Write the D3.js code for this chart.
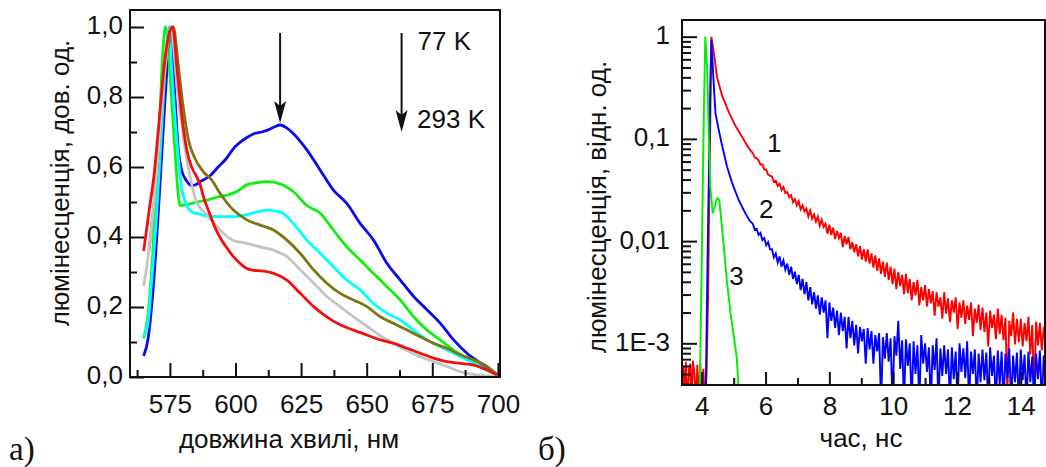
<!DOCTYPE html>
<html>
<head>
<meta charset="utf-8">
<script src="https://cdn.jsdelivr.net/npm/d3@7"></script>
<style>
  body { margin: 0; background: #fff; }
  text { font-family: "Liberation Sans", Arial, sans-serif; fill: #111; }
</style>
</head>
<body>
<div id="chart"></div>
<script>
// ---------- data: panel a) luminescence spectra, [wavelength nm, normalised intensity] ----------
var spectrumBlue = [[565,0.06],[566.7,0.11],[568.6,0.25],[570.5,0.46],[572.4,0.70],[574.4,0.94],[575,1.0],[576.9,0.80],[578.2,0.65],[579.5,0.59],[581.4,0.56],[583.3,0.547],[585,0.55],[586.5,0.558],[590.3,0.575],[593.4,0.60],[596.6,0.625],[599.5,0.655],[602,0.672],[604.5,0.685],[607,0.695],[610,0.70],[612.5,0.706],[615,0.715],[617,0.72],[619.5,0.712],[622,0.696],[627.2,0.649],[632.3,0.591],[637.3,0.534],[642.4,0.496],[647.5,0.439],[652.6,0.391],[657.7,0.325],[662.8,0.277],[667.9,0.23],[673,0.192],[678,0.154],[683.1,0.106],[688.2,0.068],[693.3,0.04],[699.7,0.006]];
var spectrumGreen = [[565,0.11],[566.7,0.18],[568.6,0.37],[569.9,0.56],[571.2,0.75],[572.4,0.94],[573.3,1.0],[575.6,0.80],[576.9,0.65],[578.2,0.52],[578.8,0.49],[582,0.493],[585.2,0.50],[589,0.505],[593.4,0.515],[597,0.52],[600.5,0.53],[604.3,0.549],[608,0.555],[611.9,0.558],[617,0.552],[622,0.53],[627.2,0.49],[632.3,0.468],[637.3,0.42],[642.4,0.372],[647.5,0.334],[652.6,0.296],[657.7,0.258],[662.8,0.22],[667.9,0.172],[673,0.134],[678,0.106],[683.1,0.077],[688.2,0.054],[693.3,0.03],[699.7,0.006]];
var spectrumCyan = [[565,0.115],[566.7,0.158],[568,0.27],[569.9,0.46],[571.8,0.70],[573.7,0.94],[574.7,1.0],[575.6,0.89],[577.6,0.68],[579.5,0.54],[581.4,0.49],[583.3,0.472],[586.5,0.465],[589,0.46],[593.4,0.458],[599.2,0.458],[605.5,0.466],[611.9,0.477],[617,0.472],[622,0.439],[627.2,0.391],[632.3,0.353],[637.3,0.315],[642.4,0.277],[647.5,0.249],[652.6,0.21],[657.7,0.182],[662.8,0.163],[667.9,0.134],[673,0.106],[678,0.087],[683.1,0.068],[688.2,0.049],[693.3,0.03],[699.7,0.006]];
var spectrumOlive = [[567,0.36],[569,0.50],[571,0.68],[573,0.87],[574.8,0.96],[576.3,1.0],[578.2,0.89],[580.1,0.77],[582,0.68],[584.5,0.625],[587.7,0.587],[590.9,0.563],[594.1,0.525],[599.2,0.477],[604.3,0.449],[609.4,0.434],[614.5,0.42],[619.6,0.391],[624.7,0.353],[629.8,0.306],[634.8,0.268],[639.9,0.239],[645,0.22],[650.1,0.201],[655.2,0.172],[660.3,0.153],[665.4,0.134],[670.4,0.115],[675.5,0.096],[680.6,0.082],[685.7,0.063],[690.8,0.049],[695.9,0.03],[699.7,0.006]];
var spectrumGrey = [[565,0.26],[567,0.36],[569,0.50],[571,0.68],[573,0.87],[575.3,1.0],[577.6,0.84],[579.5,0.72],[582,0.60],[585.2,0.50],[589.6,0.46],[594.1,0.42],[599.2,0.39],[604.3,0.382],[609.4,0.372],[614.5,0.362],[619.6,0.344],[624.7,0.306],[629.8,0.268],[634.8,0.23],[639.9,0.201],[645,0.172],[650.1,0.145],[655.2,0.118],[660.3,0.096],[665.4,0.075],[670.4,0.058],[675.5,0.044],[680.6,0.03],[685.7,0.015],[690,0.008],[695,0.004],[699.7,0.002]];
var spectrumRed = [[565,0.36],[567,0.47],[569,0.58],[571,0.74],[573,0.90],[575,0.99],[576.1,1.0],[577.6,0.89],[579.5,0.75],[581.4,0.65],[583.3,0.60],[585,0.575],[586.5,0.55],[588,0.51],[590,0.47],[592,0.43],[594,0.40],[596.6,0.37],[599.2,0.344],[601.7,0.325],[604.3,0.31],[607,0.305],[610,0.303],[614.5,0.296],[619.6,0.277],[624.7,0.239],[629.8,0.201],[634.8,0.172],[639.9,0.149],[645,0.134],[650.1,0.12],[655.2,0.106],[660.3,0.096],[665.4,0.082],[670.4,0.068],[675.5,0.054],[680.6,0.044],[685.7,0.039],[690.8,0.034],[695.9,0.02],[699.7,0.006]];

// drawing order: olive sits under grey on the rising edge
var spectra = [
  { color: "#0a0af0", data: spectrumBlue },
  { color: "#10f010", data: spectrumGreen },
  { color: "#00ffff", data: spectrumCyan },
  { color: "#7d7510", data: spectrumOlive },
  { color: "#c4c4c4", data: spectrumGrey },
  { color: "#f01010", data: spectrumRed }
];

var specTicksMajor = [575, 600, 625, 650, 675, 700];
var specTicksMinor = [562.5, 587.5, 612.5, 637.5, 662.5, 687.5];
var specYMajor = [0, 0.2, 0.4, 0.6, 0.8, 1.0];
var specYMinor = [0.1, 0.3, 0.5, 0.7, 0.9];

// arrows and temperature labels (in data units)
var arrowMarks = [{ x: 617, from: 0.983, to: 0.726 }, { x: 663.3, from: 0.983, to: 0.70 }];
var tempLabels = [{ x: 669.4, v: 0.934, text: "77 K" }, { x: 669.2, v: 0.711, text: "293 K" }];

// ---------- data: panel б) decay curves, log10 of intensity ----------
// rise + early decay, [time ns, log10 I]
var decayRedHead = [[3.38,-3.6],[3.42,-3.22],[3.46,-3.55],[3.50,-3.18],[3.55,-3.6],[3.60,-3.25],[3.64,-3.20],[3.68,-3.6],[3.72,-3.17],[3.77,-3.30],[3.82,-3.6],[3.86,-3.21],[3.90,-3.6],[3.95,-3.19],[4.00,-3.6],[4.05,-3.25],[4.10,-3.6],[4.15,-3.3],[4.20,-2.5],[4.24,-1.4],[4.27,-0.75],[4.30,0],[4.38,-0.16],[4.48,-0.40],[4.64,-0.58],[4.85,-0.74],[5.05,-0.87],[5.26,-0.98],[5.47,-1.09]];
var decayBlueHead = [[4.12,-3.6],[4.18,-2.2],[4.23,-1.2],[4.27,-0.45],[4.30,-0.03],[4.38,-0.49],[4.43,-0.75],[4.53,-0.91],[4.64,-1.07],[4.79,-1.27],[4.95,-1.43],[5.16,-1.6],[5.37,-1.73],[5.50,-1.80]];
var decayGreen = [[3.93,-3.6],[3.97,-2.8],[4.00,-2.2],[4.03,-1.47],[4.07,-0.65],[4.11,0],[4.17,-0.32],[4.22,-0.98],[4.27,-1.47],[4.34,-1.73],[4.41,-1.66],[4.48,-1.58],[4.55,-1.60],[4.61,-1.79],[4.69,-2.05],[4.79,-2.40],[4.90,-2.70],[5.00,-2.92],[5.10,-3.15],[5.18,-3.6]];

// noisy tails, one channel every tailStep ns from tailStart
var tailStart = 5.6, tailStep = 0.06;
var decayRedTail = [
  -1.14,-1.18,-1.19,-1.21,-1.25,-1.25,-1.30,-1.30,-1.35,-1.36,
  -1.37,-1.42,-1.41,-1.46,-1.44,-1.50,-1.47,-1.53,-1.52,-1.57,
  -1.55,-1.62,-1.59,-1.65,-1.61,-1.69,-1.65,-1.71,-1.68,-1.76,
  -1.70,-1.78,-1.74,-1.81,-1.76,-1.85,-1.79,-1.86,-1.83,-1.93,
  -1.84,-1.94,-1.87,-1.98,-1.90,-1.97,-1.92,-2.06,-1.95,-2.03,
  -1.96,-2.08,-2.01,-2.11,-2.03,-2.15,-2.05,-2.18,-2.08,-2.20,
  -2.08,-2.22,-2.12,-2.26,-2.14,-2.29,-2.17,-2.32,-2.20,-2.35,
  -2.21,-2.38,-2.25,-2.42,-2.27,-2.47,-2.30,-2.44,-2.33,-2.52,
  -2.32,-2.51,-2.37,-2.58,-2.40,-2.53,-2.38,-2.63,-2.45,-2.58,
  -2.43,-2.64,-2.47,-2.61,-2.49,-2.73,-2.50,-2.64,-2.55,-2.76,
  -2.50,-2.71,-2.56,-2.79,-2.58,-2.70,-2.55,-2.86,-2.60,-2.75,
  -2.58,-2.81,-2.63,-2.77,-2.60,-2.93,-2.66,-2.80,-2.62,-2.87,
  -2.65,-2.89,-2.70,-3.03,-2.68,-2.85,-2.72,-2.96,-2.66,-2.91,
  -2.72,-2.97,-2.75,-3.50,-2.78,-2.93,-2.70,-3.01,-2.76,-2.99,
  -2.76,-3.03,-2.80,-2.98,-2.74,-3.11,-2.82,-3.50,-2.79,-3.02,
  -2.80,-3.07,-2.84,-3.01
];
var decayBlueTail = [
  -1.83,-1.89,-1.88,-1.94,-1.92,-1.99,-1.97,-2.04,-2.01,-2.08,
  -2.08,-2.16,-2.12,-2.21,-2.15,-2.25,-2.19,-2.28,-2.22,-2.33,
  -2.25,-2.37,-2.30,-2.42,-2.33,-2.48,-2.37,-2.52,-2.40,-2.58,
  -2.45,-2.62,-2.50,-2.66,-2.53,-2.72,-2.55,-2.70,-2.58,-2.95,
  -2.60,-2.78,-2.65,-2.85,-2.68,-2.92,-2.70,-2.88,-2.74,-3.05,
  -2.74,-2.95,-2.78,-3.02,-2.82,-3.10,-2.84,-2.98,-2.86,-3.20,
  -2.85,-3.06,-2.88,-3.20,-2.92,-3.08,-2.90,-3.60,-2.94,-3.15,
  -2.90,-3.18,-2.95,-3.60,-2.93,-3.12,-2.78,-3.25,-2.97,-3.60,
  -2.96,-3.22,-3.00,-3.60,-2.98,-3.30,-3.02,-3.60,-2.92,-3.20,
  -3.00,-3.28,-3.04,-3.60,-3.02,-3.26,-2.95,-3.60,-3.05,-3.32,
  -3.02,-3.30,-3.06,-3.60,-3.04,-3.35,-3.08,-3.60,-3.00,-3.28,
  -3.05,-3.34,-2.98,-3.60,-3.08,-3.30,-3.06,-3.60,-3.10,-3.38,
  -3.06,-3.36,-3.09,-3.60,-3.04,-3.32,-3.12,-3.60,-3.07,-3.40,
  -3.08,-3.60,-3.10,-3.34,-3.05,-3.60,-3.12,-3.38,-3.09,-3.60,
  -3.06,-3.36,-3.11,-3.60,-3.08,-3.38,-3.13,-3.60,-3.10,-3.35,
  -3.07,-3.60,-3.12,-3.40
];

var decayTicksMajor = [4, 6, 8, 10, 12, 14];
var decayTicksMinor = [5, 7, 9, 11, 13];
var decayYMajor = [1, 0.1, 0.01, 0.001];
var decayYLabels = ["1", "0,1", "0,01", "1E-3"];
var curveLabels = [{ t: 6.27, v: 0.0744, text: "1" }, { t: 6.02, v: 0.0168, text: "2" }, { t: 5.09, v: 0.0037, text: "3" }];

// ---------- drawing ----------
var svg = d3.select("#chart").append("svg")
  .attr("width", 1046)
  .attr("height", 467);

var commaFormat = function (d) { return d3.format(".1f")(d).replace(".", ","); };

// style a d3 axis group: thick ticks, big labels, no domain line
function styleAxis(g) {
  g.attr("font-size", 26).attr("font-family", null);
  g.select(".domain").remove();
  g.selectAll("line").attr("stroke", "#111").attr("stroke-width", 2);
  g.selectAll("text").attr("fill", "#111");
}

// ===== panel a) =====
var specBox = { left: 130, right: 500, top: 10, bottom: 377 };
var specX = d3.scaleLinear().domain([559.8, 700.8]).range([specBox.left, specBox.right]);
var specY = d3.scaleLinear().domain([0, 1.0486]).range([specBox.bottom, specBox.top]);

svg.append("clipPath").attr("id", "clipA").append("rect")
  .attr("x", specBox.left).attr("y", specBox.top)
  .attr("width", specBox.right - specBox.left).attr("height", specBox.bottom - specBox.top);

var specLine = d3.line()
  .x(function (d) { return specX(d[0]); })
  .y(function (d) { return specY(d[1]); })
  .curve(d3.curveMonotoneX);

svg.append("g").attr("clip-path", "url(#clipA)")
  .selectAll("path").data(spectra).enter().append("path")
  .attr("d", function (d) { return specLine(d.data); })
  .attr("fill", "none")
  .attr("stroke", function (d) { return d.color; })
  .attr("stroke-width", 2.8)
  .attr("stroke-linejoin", "round");

// x axis (ticks point inward)
var ax = svg.append("g").attr("transform", "translate(0," + specBox.bottom + ")")
  .call(d3.axisBottom(specX).tickValues(specTicksMajor).tickSize(-14).tickFormat(d3.format("d")));
styleAxis(ax);
ax.selectAll("text").attr("y", 36).attr("dy", 0);
var axm = svg.append("g").attr("transform", "translate(0," + specBox.bottom + ")")
  .call(d3.axisBottom(specX).tickValues(specTicksMinor).tickSize(-7).tickFormat(""));
styleAxis(axm);

// y axis
var ay = svg.append("g").attr("transform", "translate(" + specBox.left + ",0)")
  .call(d3.axisLeft(specY).tickValues(specYMajor).tickSize(-14).tickFormat(commaFormat));
styleAxis(ay);
ay.selectAll("text").attr("x", -7).attr("dy", 0).attr("y", 6);
var aym = svg.append("g").attr("transform", "translate(" + specBox.left + ",0)")
  .call(d3.axisLeft(specY).tickValues(specYMinor).tickSize(-7).tickFormat(""));
styleAxis(aym);

svg.append("rect")
  .attr("x", specBox.left).attr("y", specBox.top)
  .attr("width", specBox.right - specBox.left).attr("height", specBox.bottom - specBox.top)
  .attr("fill", "none").attr("stroke", "#111").attr("stroke-width", 2);

// arrows
arrowMarks.forEach(function (a) {
  var x = specX(a.x), y0 = specY(a.from), y1 = specY(a.to);
  svg.append("line").attr("x1", x).attr("x2", x).attr("y1", y0).attr("y2", y1 - 10)
    .attr("stroke", "#111").attr("stroke-width", 2);
  svg.append("path")
    .attr("d", "M" + (x - 6) + "," + (y1 - 22) + "L" + x + "," + y1 + "L" + (x + 6) + "," + (y1 - 22) + "L" + x + "," + (y1 - 17) + "Z")
    .attr("fill", "#111");
});

svg.selectAll(".tempLabel").data(tempLabels).enter().append("text")
  .attr("class", "tempLabel")
  .attr("x", function (d) { return specX(d.x); })
  .attr("y", function (d) { return specY(d.v); })
  .attr("font-size", 26)
  .text(function (d) { return d.text; });

svg.append("text").attr("x", 289).attr("y", 448).attr("text-anchor", "middle")
  .attr("font-size", 26).text("довжина хвилі, нм");
svg.append("text").attr("transform", "translate(69,183) rotate(-90)").attr("text-anchor", "middle")
  .attr("font-size", 26).text("люмінесценція, дов. од.");
svg.append("text").attr("x", 9).attr("y", 460)
  .attr("font-size", 33).style("font-family", "'Liberation Serif', 'Times New Roman', serif").text("а)");

// ===== panel б) =====
var decBox = { left: 682, right: 1045, top: 20, bottom: 385 };
var decX = d3.scaleLinear().domain([3.38, 14.76]).range([decBox.left, decBox.right]);
var decY = d3.scaleLog().domain([3.91e-4, 1.456]).range([decBox.bottom, decBox.top]);

function tailPoints(values) {
  return values.map(function (v, i) { return [tailStart + i * tailStep, v]; });
}
var decays = [
  { color: "#ff0000", data: decayRedHead.concat(tailPoints(decayRedTail)) },
  { color: "#0000ff", data: decayBlueHead.concat(tailPoints(decayBlueTail)) },
  { color: "#00ee00", data: decayGreen }
];

svg.append("clipPath").attr("id", "clipB").append("rect")
  .attr("x", decBox.left).attr("y", decBox.top)
  .attr("width", decBox.right - decBox.left).attr("height", decBox.bottom - decBox.top);

var decLine = d3.line()
  .x(function (d) { return decX(d[0]); })
  .y(function (d) { return decY(Math.pow(10, d[1])); });

svg.append("g").attr("clip-path", "url(#clipB)")
  .selectAll("path").data(decays).enter().append("path")
  .attr("d", function (d) { return decLine(d.data); })
  .attr("fill", "none")
  .attr("stroke", function (d) { return d.color; })
  .attr("stroke-width", 1.9);

var bx = svg.append("g").attr("transform", "translate(0," + decBox.bottom + ")")
  .call(d3.axisBottom(decX).tickValues(decayTicksMajor).tickSize(-13).tickFormat(d3.format("d")));
styleAxis(bx);
bx.selectAll("text").attr("y", 30).attr("dy", 0);
var bxm = svg.append("g").attr("transform", "translate(0," + decBox.bottom + ")")
  .call(d3.axisBottom(decX).tickValues(decayTicksMinor).tickSize(-7).tickFormat(""));
styleAxis(bxm);

// log y axis: decades labelled, 2..9 as minor ticks
var decayYMinor = [];
[1e-4, 1e-3, 1e-2, 1e-1].forEach(function (dec) {
  for (var k = 2; k <= 9; k++) {
    var v = +(dec * k).toPrecision(3);
    if (v >= decY.domain()[0] && v <= decY.domain()[1]) decayYMinor.push(v);
  }
});
var by = svg.append("g").attr("transform", "translate(" + decBox.left + ",0)")
  .call(d3.axisLeft(decY).tickValues(decayYMajor).tickSize(-15)
    .tickFormat(function (d, i) { return decayYLabels[i]; }));
styleAxis(by);
by.selectAll("text").attr("x", -12).attr("dy", 0).attr("y", 7);
var bym = svg.append("g").attr("transform", "translate(" + decBox.left + ",0)")
  .call(d3.axisLeft(decY).tickValues(decayYMinor).tickSize(-9).tickFormat(""));
styleAxis(bym);

svg.append("rect")
  .attr("x", decBox.left).attr("y", decBox.top)
  .attr("width", decBox.right - decBox.left).attr("height", decBox.bottom - decBox.top)
  .attr("fill", "none").attr("stroke", "#111").attr("stroke-width", 2);

svg.selectAll(".curveLabel").data(curveLabels).enter().append("text")
  .attr("class", "curveLabel")
  .attr("x", function (d) { return decX(d.t); })
  .attr("y", function (d) { return decY(d.v); })
  .attr("text-anchor", "middle")
  .attr("font-size", 26)
  .text(function (d) { return d.text; });

svg.append("text").attr("x", 861).attr("y", 447).attr("text-anchor", "middle")
  .attr("font-size", 26).text("час, нс");
svg.append("text").attr("transform", "translate(606,207) rotate(-90)").attr("text-anchor", "middle")
  .attr("font-size", 26).text("люмінесценція, відн. од.");
svg.append("text").attr("x", 538).attr("y", 460)
  .attr("font-size", 33).style("font-family", "'Liberation Serif', 'Times New Roman', serif").text("б)");
</script>
</body>
</html>
